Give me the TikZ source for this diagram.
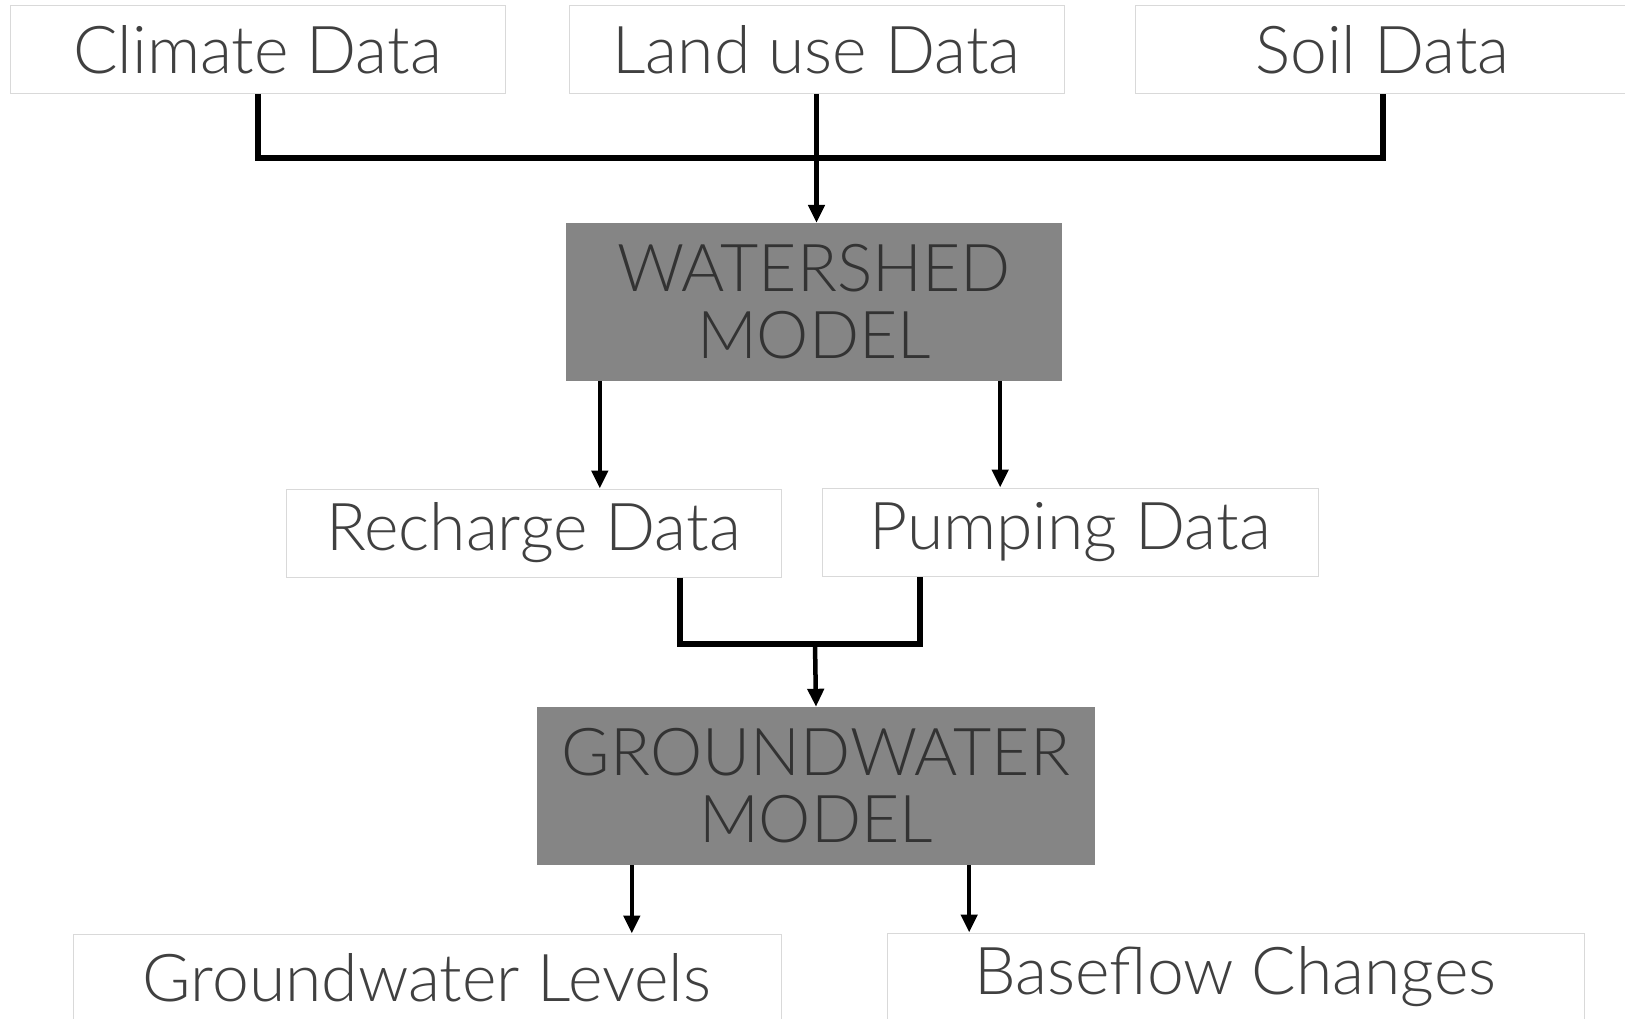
\documentclass[tikz,border=0pt]{standalone}
\usepackage{fontspec}
\setmainfont{Lato}[UprightFont=* Light]
\usetikzlibrary{arrows.meta,calc}
\definecolor{txtgray}{HTML}{404040}
\definecolor{boxline}{HTML}{D9D9D9}
\definecolor{modelfill}{HTML}{858585}
\definecolor{modeltxt}{HTML}{333333}

\begin{document}
\begin{tikzpicture}[x=1pt,y=-1pt,
    databox/.style={draw=boxline, line width=1pt, fill=white, text=txtgray,
      minimum width=495pt, minimum height=88pt, inner sep=0pt,
      font=\fontsize{66}{67}\selectfont},
    modelbox/.style={fill=modelfill, text=modeltxt, minimum height=158pt,
      inner sep=0pt, align=center, font=\fontsize{66}{67}\selectfont},
    bus/.style={line width=6pt},
    flow/.style={line width=4.5pt, -{Triangle[width=16pt,length=18pt]}}]
      \useasboundingbox (0,0) rectangle (1625,1019);
      % input data
      \node[databox] (climate) at (257.5,49.5) {Climate Data};
      \node[databox] (landuse) at (816.5,49.5) {Land use Data};
      \node[databox] (soil) at (1382.5,49.5) {Soil Data};
      % watershed model
      \node[modelbox, minimum width=496pt] (watershed) at (814,302) {WATERSHED\\MODEL};
      \coordinate (jtop) at (816.5,158);
      \draw[bus] (climate.south) |- (jtop) -| (soil.south);
      \draw[flow] (landuse.south) -- (landuse.south |- watershed.north);
      % model outputs
      \node[databox] (recharge) at (533.5,533) {Recharge Data};
      \node[databox, minimum width=496pt] (pumping) at (1070,532) {Pumping Data};
      \draw[flow] ([xshift=34pt]watershed.south west) -- ([xshift=34pt]watershed.south west |- recharge.north);
      \draw[flow] ([xshift=-62pt]watershed.south east) -- ([xshift=-62pt]watershed.south east |- pumping.north);
      % groundwater model
      \node[modelbox, minimum width=558pt] (groundwater) at (816,786) {GROUNDWATER\\MODEL};
      \coordinate (jmid) at (815,644);
      \draw[bus] ([xshift=146pt]recharge.south) |- (jmid) -| ([xshift=-150pt]pumping.south);
      \draw[flow] (jmid) -- (groundwater.north);
      % results
      \node[databox, minimum width=708pt] (levels) at (427,978) {Groundwater Levels};
      \node[databox, minimum width=697pt] (baseflow) at (1235.5,977) {Baseflow Changes};
      \draw[flow] ([xshift=95pt]groundwater.south west) -- ([xshift=95pt]groundwater.south west |- levels.north);
      \draw[flow] ([xshift=-126pt]groundwater.south east) -- ([xshift=-126pt]groundwater.south east |- baseflow.north);
\end{tikzpicture}
\end{document}
